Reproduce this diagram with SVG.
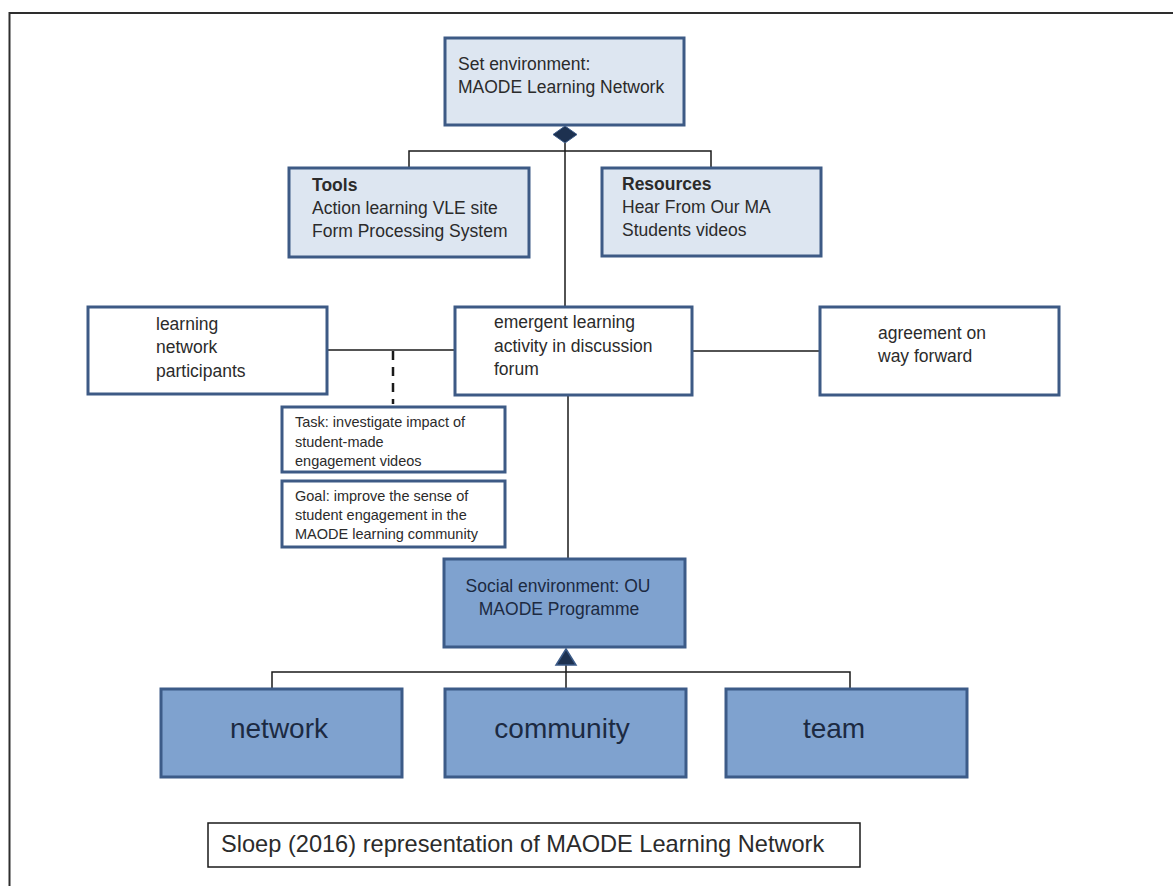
<svg xmlns="http://www.w3.org/2000/svg" width="1173" height="886" viewBox="0 0 1173 886">
<style>
  .t{font-family:"Liberation Sans",Arial,sans-serif;fill:#2b2b2b}
  .m{font-size:17.5px}
  .s{font-size:14.5px}
  .big{font-size:28px;fill:#1c2a42;text-anchor:middle}
  .soc{font-size:17.5px;fill:#1c2a42;text-anchor:middle}
  .light{fill:#dde6f1;stroke:#3d5a85;stroke-width:3}
  .white{fill:#ffffff;stroke:#3d5a85;stroke-width:3}
  .dark{fill:#7fa2cf;stroke:#3c5b88;stroke-width:3}
  .c{fill:none;stroke:#1a1a1a;stroke-width:1.5}
</style>
<rect width="1173" height="886" fill="#ffffff"/>
<path d="M9.5,886 V13 H1173" fill="none" stroke="#2e2e2e" stroke-width="2"/>

<g id="connectors">
  <path class="c" d="M409,168 V151 H711 V168"/>
  <path class="c" d="M565,143 V307"/>
  <polygon points="565,126 577,134.5 565,143 553,134.5" fill="#1d3150" stroke="#3c5b88" stroke-width="1"/>
  <path class="c" d="M327,350 H455"/>
  <path d="M393,351 V404" fill="none" stroke="#1a1a1a" stroke-width="2.5" stroke-dasharray="9,7"/>
  <path class="c" d="M692,351 H820"/>
  <path class="c" d="M568,395 V559"/>
  <path class="c" d="M272,689 V672 H850 V689"/>
  <path class="c" d="M566,664 V689"/>
  <polygon points="566,649 576,665 556,665" fill="#1d3150" stroke="#3c5b88" stroke-width="1.5"/>
</g>

<g id="set-environment">
  <rect class="light" x="445" y="38" width="239" height="87"/>
  <text class="t m" x="458" y="70">Set environment:</text>
  <text class="t m" x="458" y="93">MAODE Learning Network</text>
</g>

<g id="tools">
  <rect class="light" x="289" y="168" width="240" height="89"/>
  <text class="t m" x="312" y="191" font-weight="bold">Tools</text>
  <text class="t m" x="312" y="214">Action learning VLE site</text>
  <text class="t m" x="312" y="237">Form Processing System</text>
</g>

<g id="resources">
  <rect class="light" x="602" y="168" width="219" height="88"/>
  <text class="t m" x="622" y="190" font-weight="bold">Resources</text>
  <text class="t m" x="622" y="213">Hear From Our MA</text>
  <text class="t m" x="622" y="236">Students videos</text>
</g>

<g id="learning-network-participants">
  <rect class="white" x="88" y="307" width="239" height="87"/>
  <text class="t m" x="156" y="330">learning</text>
  <text class="t m" x="156" y="353">network</text>
  <text class="t m" x="156" y="377">participants</text>
</g>

<g id="emergent-learning">
  <rect class="white" x="455" y="307" width="237" height="88"/>
  <text class="t m" x="494" y="328">emergent learning</text>
  <text class="t m" x="494" y="352">activity in discussion</text>
  <text class="t m" x="494" y="375">forum</text>
</g>

<g id="agreement">
  <rect class="white" x="820" y="307" width="239" height="88"/>
  <text class="t m" x="878" y="339">agreement on</text>
  <text class="t m" x="878" y="362">way forward</text>
</g>

<g id="task">
  <rect class="white" x="282" y="407" width="223" height="65"/>
  <text class="t s" x="295" y="427">Task: investigate impact of</text>
  <text class="t s" x="295" y="447">student-made</text>
  <text class="t s" x="295" y="466">engagement videos</text>
</g>

<g id="goal">
  <rect class="white" x="282" y="481" width="223" height="66"/>
  <text class="t s" x="295" y="501">Goal: improve the sense of</text>
  <text class="t s" x="295" y="520">student engagement in the</text>
  <text class="t s" x="295" y="539">MAODE learning community</text>
</g>

<g id="social-environment">
  <rect class="dark" x="444" y="559" width="241" height="88"/>
  <text class="t soc" x="558" y="592">Social environment: OU</text>
  <text class="t soc" x="559" y="615">MAODE Programme</text>
</g>

<g id="network">
  <rect class="dark" x="161" y="689" width="241" height="88"/>
  <text class="t big" x="279" y="738">network</text>
</g>

<g id="community">
  <rect class="dark" x="445" y="689" width="241" height="88"/>
  <text class="t big" x="562" y="738">community</text>
</g>

<g id="team">
  <rect class="dark" x="726" y="689" width="241" height="88"/>
  <text class="t big" x="834" y="738">team</text>
</g>

<g id="caption">
  <rect x="208" y="823" width="652" height="44" fill="#ffffff" stroke="#1a1a1a" stroke-width="1.5"/>
  <text class="t" x="221" y="852" font-size="23.6px">Sloep (2016) representation of MAODE Learning Network</text>
</g>
</svg>
